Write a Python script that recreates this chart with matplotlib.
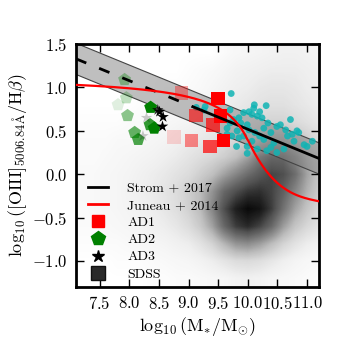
import numpy as np
import matplotlib
matplotlib.use("Agg")
import matplotlib.pyplot as plt
from matplotlib.lines import Line2D
from matplotlib.colors import PowerNorm

plt.rcParams['font.family'] = 'serif'
plt.rcParams['font.serif'] = ['cmr10', 'DejaVu Serif']
plt.rcParams['mathtext.fontset'] = 'cm'
plt.rcParams['axes.formatter.use_mathtext'] = True

# ---------------- data ----------------
# AD1 (red squares): mass, ratio, alpha
ad1_x = [8.88, 9.50, 9.13, 9.54, 9.41, 9.59, 9.36, 9.05, 8.75]
ad1_y = [0.935, 0.87, 0.675, 0.67, 0.57, 0.39, 0.32, 0.39, 0.43]
ad1_a = [0.35, 1.0, 0.6, 1.0, 0.7, 1.0, 0.7, 0.45, 0.15]

# AD2 (green pentagons)
ad2_x = [7.92, 7.95, 7.81, 7.97, 8.36, 8.35, 8.42, 8.09, 8.15]
ad2_y = [1.09, 0.88, 0.80, 0.675, 0.77, 0.57, 0.53, 0.48, 0.40]
ad2_a = [0.35, 0.25, 0.12, 0.45, 1.0, 0.8, 1.0, 0.6, 0.7]

# AD3 (black stars)
ad3_x = [8.51, 8.57, 8.56, 8.48, 8.29, 8.23]
ad3_y = [0.72, 0.66, 0.55, 0.74, 0.65, 0.44]
ad3_a = [1.0, 1.0, 1.0, 0.8, 0.2, 0.2]

# Comparison sample (cyan circles)
cyan_x = [9.72, 10.11, 10.10, 10.31, 9.13, 9.28, 10.02, 10.16, 10.24, 10.72,
          10.55, 10.83, 9.65, 9.82, 9.93, 9.76, 9.88, 9.99, 10.27, 10.39,
          10.67, 10.78, 10.95, 11.09, 9.81, 9.99, 10.16, 10.32, 10.49, 10.61,
          10.07, 10.27, 10.44, 9.59, 9.70, 9.93, 10.07, 9.85, 10.12, 10.20,
          10.34, 10.49, 10.64, 10.75, 10.86, 11.00, 9.73, 9.65, 9.99, 10.39,
          10.20, 10.02, 9.85, 9.26, 9.70]
cyan_y = [0.93, 0.80, 0.76, 0.79, 0.77, 0.78, 0.72, 0.67, 0.65, 0.63,
          0.57, 0.50, 0.53, 0.50, 0.44, 0.63, 0.59, 0.57, 0.53, 0.48,
          0.44, 0.38, 0.34, 0.38, 0.32, 0.24, 0.29, 0.27, 0.25, 0.29,
          0.38, 0.40, 0.36, 0.67, 0.59, 0.71, 0.69, 0.65, 0.48, 0.44,
          0.59, 0.55, 0.51, 0.46, 0.48, 0.32, 0.44, 0.46, 0.32, 0.31,
          0.72, 0.51, 0.42, 0.74, 0.74]

# SDSS density grid (relative density), rows from top (y=1.4) to bottom (y=-1.2)
sdss_xc = [7.2, 7.4, 7.6, 7.8, 8.0, 8.2, 8.4, 8.6, 8.8, 9.0, 9.2, 9.4, 9.6,
           9.8, 10.0, 10.2, 10.4, 10.6, 10.8, 11.0, 11.2]
sdss_yc = [1.4, 1.2, 1.0, 0.8, 0.6, 0.4, 0.2, 0.0, -0.2, -0.4, -0.6, -0.8, -1.0, -1.2]
sdss_density = [
    [0, 0, 0, 0, 0, 0, 0, 0, 0, 0, 0, 0, 0.02, 0.04, 0.05, 0.06, 0.07, 0.08, 0.08, 0.07, 0.06],
    [0, 0, 0, 0, 0, 0, 0, 0, 0, 0.01, 0.02, 0.03, 0.05, 0.07, 0.08, 0.09, 0.10, 0.10, 0.10, 0.09, 0.08],
    [0, 0, 0, 0, 0, 0, 0, 0.01, 0.01, 0.02, 0.03, 0.05, 0.07, 0.09, 0.10, 0.12, 0.13, 0.13, 0.12, 0.10, 0.09],
    [0, 0, 0, 0, 0, 0.01, 0.01, 0.02, 0.03, 0.04, 0.05, 0.07, 0.09, 0.11, 0.13, 0.15, 0.16, 0.16, 0.14, 0.12, 0.10],
    [0.01, 0.01, 0.01, 0.01, 0.02, 0.02, 0.03, 0.04, 0.05, 0.06, 0.08, 0.10, 0.12, 0.14, 0.17, 0.20, 0.22, 0.22, 0.19, 0.16, 0.13],
    [0.02, 0.02, 0.02, 0.03, 0.03, 0.04, 0.05, 0.06, 0.08, 0.10, 0.12, 0.14, 0.17, 0.20, 0.24, 0.30, 0.38, 0.38, 0.30, 0.24, 0.18],
    [0.02, 0.02, 0.03, 0.04, 0.05, 0.06, 0.07, 0.09, 0.11, 0.14, 0.17, 0.20, 0.24, 0.30, 0.40, 0.55, 0.62, 0.62, 0.50, 0.35, 0.25],
    [0.03, 0.03, 0.04, 0.05, 0.06, 0.08, 0.10, 0.12, 0.15, 0.18, 0.24, 0.30, 0.40, 0.50, 0.60, 0.68, 0.75, 0.72, 0.60, 0.40, 0.28],
    [0.03, 0.03, 0.04, 0.05, 0.07, 0.09, 0.11, 0.14, 0.18, 0.24, 0.32, 0.45, 0.62, 0.72, 0.80, 0.82, 0.76, 0.65, 0.50, 0.35, 0.25],
    [0.02, 0.03, 0.04, 0.05, 0.06, 0.08, 0.10, 0.13, 0.17, 0.23, 0.32, 0.50, 0.72, 0.88, 0.96, 0.92, 0.78, 0.58, 0.40, 0.28, 0.20],
    [0.02, 0.02, 0.03, 0.04, 0.05, 0.06, 0.08, 0.10, 0.13, 0.18, 0.26, 0.40, 0.62, 0.78, 0.84, 0.76, 0.62, 0.42, 0.28, 0.20, 0.15],
    [0.01, 0.01, 0.02, 0.02, 0.03, 0.04, 0.05, 0.06, 0.08, 0.10, 0.15, 0.22, 0.34, 0.45, 0.48, 0.42, 0.32, 0.22, 0.15, 0.10, 0.08],
    [0, 0, 0, 0.01, 0.01, 0.01, 0.02, 0.03, 0.04, 0.05, 0.07, 0.10, 0.14, 0.18, 0.19, 0.17, 0.13, 0.09, 0.06, 0.04, 0.03],
    [0, 0, 0, 0, 0, 0, 0.01, 0.01, 0.02, 0.02, 0.03, 0.04, 0.05, 0.07, 0.08, 0.07, 0.05, 0.04, 0.03, 0.02, 0.01],
]

# Strom+2017 relation and Juneau+2014 MEx curve parameters
strom_slope = -0.28
strom_intercept = 3.318
strom_scatter = 0.18
strom_solid_min = 9.07
juneau_a = [0.375, 10.5, 1.14]
juneau_poly = [410.24, -109.333, 9.71731, -0.288244]

xticks = [7.5, 8.0, 8.5, 9.0, 9.5, 10.0, 10.5, 11.0]
yticks = [-1.0, -0.5, 0.0, 0.5, 1.0, 1.5]

# ---------------- figure ----------------
fig = plt.figure(figsize=(3.47, 3.47), dpi=100)
ax = fig.add_axes([0.219, 0.173, 0.700, 0.700])
xlim = (7.1, 11.2)
ylim = (-1.3, 1.5)

dx = sdss_xc[1] - sdss_xc[0]
dy = sdss_yc[0] - sdss_yc[1]
ax.imshow(np.array(sdss_density), cmap='Greys', norm=PowerNorm(0.85, vmin=0, vmax=1),
          extent=[sdss_xc[0] - dx / 2, sdss_xc[-1] + dx / 2,
                  sdss_yc[-1] - dy / 2, sdss_yc[0] + dy / 2],
          origin='upper', aspect='auto', interpolation='bilinear', zorder=0)

xx = np.linspace(xlim[0], xlim[1], 300)
sy = strom_slope * xx + strom_intercept
ax.fill_between(xx, sy - strom_scatter, sy + strom_scatter, facecolor='gray',
                alpha=0.5, edgecolor='none', zorder=1)
ax.plot(xx, sy + strom_scatter, color='#444444', lw=0.8, zorder=1.5)
ax.plot(xx, sy - strom_scatter, color='#444444', lw=0.8, zorder=1.5)

ax.scatter(cyan_x, cyan_y, s=24, color='#10b4b4', alpha=0.85, edgecolors='none', zorder=2)

xd = xx[xx <= strom_solid_min]
xs = xx[xx >= strom_solid_min]
ax.plot(xd, strom_slope * xd + strom_intercept, color='black', lw=2,
        dashes=(4, 5), zorder=4)
ax.plot(xs, strom_slope * xs + strom_intercept, color='black', lw=2, zorder=4)

x1 = xx[xx <= 10.0]
x2 = xx[xx >= 10.0]
j1 = juneau_a[0] / (x1 - juneau_a[1]) + juneau_a[2]
j2 = np.polyval(juneau_poly[::-1], x2)
ax.plot(np.concatenate([x1, x2]), np.concatenate([j1, j2]), color='red', lw=1.6, zorder=4)

for x, y, a in zip(ad1_x, ad1_y, ad1_a):
    ax.scatter([x], [y], marker='s', s=95, color='red', alpha=a,
               edgecolors='none', zorder=3)
for x, y, a in zip(ad2_x, ad2_y, ad2_a):
    ax.scatter([x], [y], marker='p', s=95, color='green', alpha=a,
               edgecolors='none', zorder=3)
for x, y, a in zip(ad3_x, ad3_y, ad3_a):
    ax.scatter([x], [y], marker='*', s=75, color='black', alpha=a,
               edgecolors='none', zorder=3)

ax.set_xlim(*xlim)
ax.set_ylim(*ylim)
ax.set_xticks(xticks)
ax.set_yticks(yticks)
ax.tick_params(direction='in', top=True, right=True, length=6, width=1,
               labelsize=12, pad=6)
for sp in ax.spines.values():
    sp.set_linewidth(2)

ax.set_xlabel(r'$\log_{10}(\mathrm{M_{*}/M_{\odot}})$', fontsize=13, labelpad=2)
ax.set_ylabel(r'$\log_{10}([\mathrm{OIII}]_{5006.84\mathrm{\AA}}/\mathrm{H}\beta)$',
              fontsize=13, labelpad=2)

handles = [
    Line2D([], [], color='black', lw=2),
    Line2D([], [], color='red', lw=2),
    Line2D([], [], marker='s', color='red', ls='none', markersize=9),
    Line2D([], [], marker='p', color='green', ls='none', markersize=10),
    Line2D([], [], marker='*', color='black', ls='none', markersize=9),
    Line2D([], [], marker='s', color='#2a2a2a', markeredgecolor='#111111',
           ls='none', markersize=10),
]
labels = ['Strom + 2017', 'Juneau + 2014', 'AD1', 'AD2', 'AD3', 'SDSS']
ax.legend(handles, labels, loc='lower left', frameon=False, fontsize=10,
          handlelength=1.4, handletextpad=1.4, labelspacing=0.32,
          bbox_to_anchor=(0.0, -0.025))

fig.savefig('out.png', dpi=100)
